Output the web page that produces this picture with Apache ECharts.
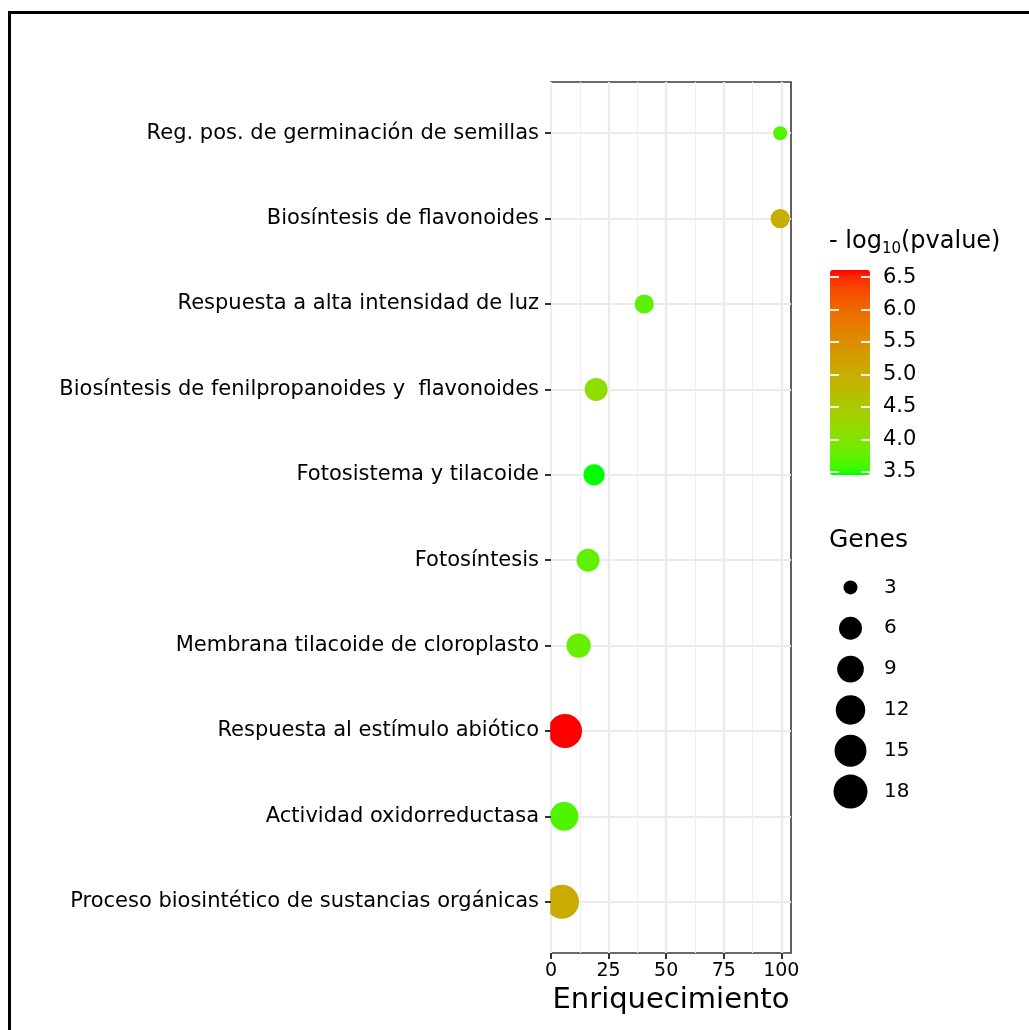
<!DOCTYPE html>
<html>
<head>
<meta charset="utf-8">
<script src="https://cdn.jsdelivr.net/npm/echarts@6/dist/echarts.min.js"></script>
<style>
html,body{margin:0;padding:0;background:#fff;}
#chart{width:1029px;height:1030px;}
</style>
</head>
<body>
<div id="chart"></div>
<script>
// ---------------- data ----------------
const categories = [
  "Proceso biosintético de sustancias orgánicas",
  "Actividad oxidorreductasa",
  "Respuesta al estímulo abiótico",
  "Membrana tilacoide de cloroplasto",
  "Fotosíntesis",
  "Fotosistema y tilacoide",
  "Biosíntesis de fenilpropanoides y  flavonoides",
  "Respuesta a alta intensidad de luz",
  "Biosíntesis de flavonoides",
  "Reg. pos. de germinación de semillas"
];
const enrichment = [4.8, 5.7, 6.1, 12.0, 16.1, 18.7, 19.6, 40.5, 99.5, 99.5];
const negLog10P  = [5.02, 3.64, 6.61, 3.78, 3.73, 3.45, 4.12, 3.70, 4.97, 3.64];
const genes      = [18, 11, 18, 7, 6, 5, 6, 4, 4, 3];

const xTicks = [0, 25, 50, 75, 100];
const xMinorTicks = [12.5, 37.5, 62.5, 87.5];
const colorTicks = [3.5, 4.0, 4.5, 5.0, 5.5, 6.0, 6.5];
const sizeBreaks = [3, 6, 9, 12, 15, 18];

// ---------------- helpers ----------------
const GMIN = 3, GMAX = 18;
function sizeFn(g) {
  const t = Math.max(0, Math.min(1, (g - GMIN) / (GMAX - GMIN)));
  return 14 + 20 * Math.sqrt(t);
}
function toLin(c){c/=255;return c<=0.04045?c/12.92:Math.pow((c+0.055)/1.055,2.4);}
function toS(v){v=v<=0.0031308?12.92*v:1.055*Math.pow(v,1/2.4)-0.055;return Math.max(0,Math.min(255,Math.round(v*255)));}
function rgb2lab(r,g,b){
  const R=toLin(r),G=toLin(g),B=toLin(b);
  const X=(0.4124*R+0.3576*G+0.1805*B)/0.95047;
  const Y=(0.2126*R+0.7152*G+0.0722*B);
  const Z=(0.0193*R+0.1192*G+0.9505*B)/1.08883;
  const f=t=>t>0.008856?Math.cbrt(t):7.787*t+16/116;
  const fx=f(X),fy=f(Y),fz=f(Z);
  return [116*fy-16,500*(fx-fy),200*(fy-fz)];
}
function lab2hex(L,a,b){
  const fy=(L+16)/116,fx=fy+a/500,fz=fy-b/200;
  const fi=t=>{const t3=t*t*t;return t3>0.008856?t3:(t-16/116)/7.787;};
  const X=0.95047*fi(fx),Y=fi(fy),Z=1.08883*fi(fz);
  const R=3.2406*X-1.5372*Y-0.4986*Z;
  const G=-0.9689*X+1.8758*Y+0.0415*Z;
  const B=0.0557*X-0.2040*Y+1.0570*Z;
  return '#'+[toS(R),toS(G),toS(B)].map(v=>v.toString(16).padStart(2,'0')).join('');
}
const lowLab = rgb2lab(0,255,0), highLab = rgb2lab(255,0,0);
const rampColors = [];
for (let i = 0; i <= 32; i++) {
  const t = i / 32;
  rampColors.push(lab2hex(
    lowLab[0]+(highLab[0]-lowLab[0])*t,
    lowLab[1]+(highLab[1]-lowLab[1])*t,
    lowLab[2]+(highLab[2]-lowLab[2])*t));
}
const pMin = Math.min(...negLog10P), pMax = Math.max(...negLog10P);

const rows = categories.map((c, i) => i + 1);
const mainData = categories.map((c, i) => [enrichment[i], i + 1, negLog10P[i], genes[i]]);

const FONT = 'DejaVu Sans';
const chart = echarts.init(document.getElementById('chart'), null, {renderer: 'canvas'});

const whiteTick = {color: 'rgba(255,255,255,0.9)', width: 2};

const option = {
  animation: false,
  backgroundColor: '#fff',
  textStyle: {fontFamily: FONT},
  title: [
    {
      text: '- log{sub|10}(pvalue)',
      left: 829, top: 227, padding: 0,
      textStyle: {
        fontFamily: FONT, fontSize: 24, fontWeight: 'normal', color: '#000', lineHeight: 30,
        rich: {sub: {fontFamily: FONT, fontSize: 15, verticalAlign: 'bottom', lineHeight: 15, color: '#000'}}
      }
    },
    {
      text: 'Genes', left: 829, top: 528, padding: 0,
      textStyle: {fontFamily: FONT, fontSize: 25, fontWeight: 'normal', color: '#000'}
    }
  ],
  grid: [
    {left: 551, right: 238, top: 82, bottom: 77, show: true, borderColor: '#3a3a3a', borderWidth: 1.6, backgroundColor: '#fff', containLabel: false},
    {left: 830, top: 270, width: 40, height: 205, show: false},
    {left: 835, top: 567, width: 31, height: 245, show: false}
  ],
  xAxis: [
    {
      gridIndex: 0, type: 'value', min: 0, max: 104.2, position: 'bottom',
      axisLine: {show: false},
      axisTick: {show: true, customValues: xTicks, length: 6, lineStyle: {color: '#333', width: 2}},
      axisLabel: {customValues: xTicks, fontSize: 19, color: '#000', margin: 9, fontFamily: FONT},
      splitLine: {show: true, lineStyle: {color: '#EBEBEB', width: 2.2}},
      name: 'Enriquecimiento', nameLocation: 'middle', nameGap: 30,
      nameTextStyle: {fontSize: 29, color: '#000', fontFamily: FONT},
      z: 0
    },
    {
      gridIndex: 0, type: 'value', min: 0, max: 104.2, position: 'top',
      axisLine: {show: false},
      axisTick: {show: false, customValues: xMinorTicks},
      axisLabel: {show: false, customValues: xMinorTicks},
      splitLine: {show: true, lineStyle: {color: '#EFEFEF', width: 1.2}},
      z: 0
    },
    {gridIndex: 1, type: 'value', min: 0, max: 1, show: false},
    {gridIndex: 2, type: 'value', min: -1, max: 1, show: false}
  ],
  yAxis: [
    {
      gridIndex: 0, type: 'value', min: 0.4, max: 10.6, position: 'left',
      axisLine: {show: false},
      axisTick: {show: false, customValues: rows},
      axisLabel: {customValues: rows, formatter: v => categories[Math.round(v) - 1], fontSize: 21, color: '#000', margin: 12, fontFamily: FONT},
      splitLine: {show: true, lineStyle: {color: '#EBEBEB', width: 2.2}},
      z: 0
    },
    {
      gridIndex: 0, type: 'value', min: 0.4, max: 10.6, position: 'left', offset: 0,
      axisLine: {show: false},
      axisTick: {show: true, customValues: rows, length: 6, lineStyle: {color: '#333', width: 2}},
      axisLabel: {show: false, customValues: rows},
      splitLine: {show: false},
      z: 6
    },
    {
      gridIndex: 1, type: 'value', min: pMin, max: pMax, position: 'right',
      axisLine: {show: false},
      axisTick: {show: false, customValues: colorTicks},
      axisLabel: {customValues: colorTicks, formatter: v => v.toFixed(1), fontSize: 21, color: '#000', margin: 13, fontFamily: FONT},
      splitLine: {show: false},
      z: 10
    },
    {
      gridIndex: 1, type: 'value', min: pMin, max: pMax, position: 'left', offset: 0,
      axisLine: {show: false},
      axisTick: {show: true, inside: true, customValues: colorTicks, length: 9, lineStyle: whiteTick},
      axisLabel: {show: false, customValues: colorTicks},
      splitLine: {show: false},
      z: 10
    },
    {
      gridIndex: 2, type: 'category', data: sizeBreaks.map(String), inverse: true, position: 'right',
      axisLine: {show: false}, axisTick: {show: false},
      axisLabel: {fontSize: 20, color: '#000', margin: 18, fontFamily: FONT},
      splitLine: {show: false}
    },
    {
      gridIndex: 1, type: 'value', min: pMin, max: pMax, position: 'left', offset: -40,
      axisLine: {show: false},
      axisTick: {show: true, inside: false, customValues: colorTicks, length: 9, lineStyle: whiteTick},
      axisLabel: {show: false, customValues: colorTicks},
      splitLine: {show: false},
      z: 10
    }
  ],
  visualMap: [{
    type: 'continuous', seriesIndex: 0, dimension: 2,
    min: pMin, max: pMax, calculable: false, hoverLink: false,
    inRange: {color: rampColors},
    left: 830, top: 270, itemWidth: 40, itemHeight: 205, padding: 0,
    orient: 'vertical', show: true
  }],
  graphic: [
    {type: 'rect', z: 3, silent: true, shape: {x: 539, y: 82, width: 11.2, height: 871}, style: {fill: '#fff'}},
    {type: 'rect', z: 100, silent: true, shape: {x: 9.5, y: 12.5, width: 1100, height: 1100}, style: {fill: 'none', stroke: '#000', lineWidth: 3}}
  ],
  series: [
    {
      type: 'scatter', xAxisIndex: 0, yAxisIndex: 0,
      data: mainData,
      symbolSize: v => sizeFn(v[3]),
      itemStyle: {opacity: 1},
      z: 2
    },
    {
      type: 'scatter', xAxisIndex: 3, yAxisIndex: 4,
      data: sizeBreaks.map(g => [0, String(g), g]),
      symbolSize: v => sizeFn(v[2]),
      itemStyle: {color: '#000', opacity: 1},
      z: 2
    }
  ]
};
chart.setOption(option);
</script>
</body>
</html>
